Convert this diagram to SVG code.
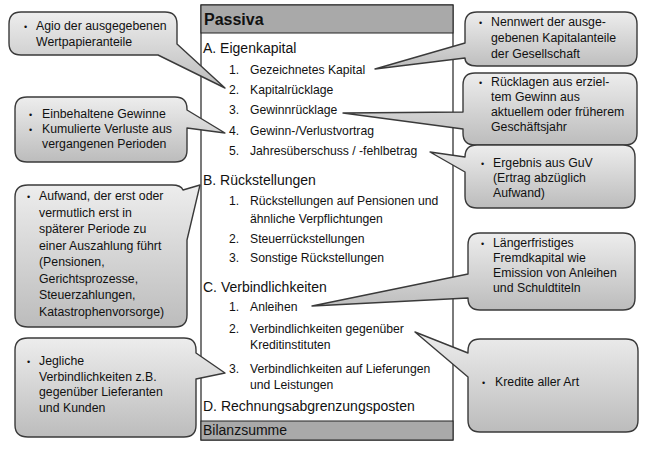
<svg xmlns="http://www.w3.org/2000/svg" width="652" height="450" viewBox="0 0 652 450">
<defs>
<linearGradient id="g" x1="0" y1="0" x2="0" y2="1">
<stop offset="0" stop-color="#ededed"/>
<stop offset="1" stop-color="#bcbcbc"/>
</linearGradient>
</defs>
<style>
.c{fill:url(#g);stroke:#3a3a3a;stroke-width:1.4;stroke-linejoin:round}
.t{font-family:"Liberation Sans",Arial,sans-serif;font-size:12.3px;fill:#111}
.b{font-family:"Liberation Sans",Arial,sans-serif;font-size:9px;fill:#111}
.h{font-family:"Liberation Sans",Arial,sans-serif;font-size:14px;fill:#111}
.i{font-family:"Liberation Sans",Arial,sans-serif;font-size:12.2px;fill:#111}
.row{fill:#a9a9a9;stroke:#222;stroke-width:1}
</style>
<rect width="652" height="450" fill="#fff"/>

<g id="table">
<rect x="201" y="5" width="252" height="435" fill="#fff" stroke="#222" stroke-width="1.2"/>
<rect class="row" x="201" y="5" width="252" height="28"/>
<rect class="row" x="201" y="421" width="252" height="19"/>
<text x="204" y="25" font-family="Liberation Sans,Arial,sans-serif" font-size="16" font-weight="bold" fill="#111">Passiva</text>
<text class="h" x="203" y="53">A. Eigenkapital</text>
<text class="i" x="229" y="74">1.<tspan x="250">Gezeichnetes Kapital</tspan></text>
<text class="i" x="229" y="94">2.<tspan x="250">Kapitalrücklage</tspan></text>
<text class="i" x="229" y="114">3.<tspan x="250">Gewinnrücklage</tspan></text>
<text class="i" x="229" y="135">4.<tspan x="250">Gewinn-/Verlustvortrag</tspan></text>
<text class="i" x="229" y="155">5.<tspan x="250">Jahresüberschuss / -fehlbetrag</tspan></text>
<text class="h" x="203" y="185">B. Rückstellungen</text>
<text class="i" x="229" y="205">1.<tspan x="250">Rückstellungen auf Pensionen und</tspan></text>
<text class="i" x="250" y="223">ähnliche Verpflichtungen</text>
<text class="i" x="229" y="243">2.<tspan x="250">Steuerrückstellungen</tspan></text>
<text class="i" x="229" y="262">3.<tspan x="250">Sonstige Rückstellungen</tspan></text>
<text class="h" x="203" y="292">C. Verbindlichkeiten</text>
<text class="i" x="229" y="311">1.<tspan x="250">Anleihen</tspan></text>
<text class="i" x="229" y="333">2.<tspan x="250">Verbindlichkeiten gegenüber</tspan></text>
<text class="i" x="250" y="349">Kreditinstituten</text>
<text class="i" x="229" y="373">3.<tspan x="250">Verbindlichkeiten auf Lieferungen</tspan></text>
<text class="i" x="250" y="389">und Leistungen</text>
<text class="h" x="203" y="411">D. Rechnungsabgrenzungsposten</text>
<text class="h" x="203" y="435">Bilanzsumme</text>
</g>

<g id="callout-agio">
<path class="c" d="M21,12 H165 Q177,12 177,24 V44 L225,88 L158,55 H21 Q9,55 9,43 V24 Q9,12 21,12 Z"/>
<text class="b" x="24" y="30">•</text>
<text class="t" x="36" y="30">Agio der ausgegebenen<tspan x="36" y="46">Wertpapieranteile</tspan></text>
</g>

<g id="callout-gewinne">
<path class="c" d="M27,97 H175 Q187,97 187,109 V110 L225,133 L187,128 V150 Q187,162 175,162 H27 Q15,162 15,150 V109 Q15,97 27,97 Z"/>
<text class="b" x="29" y="118">•</text>
<text class="t" x="42" y="118">Einbehaltene Gewinne</text>
<text class="b" x="29" y="133">•</text>
<text class="t" x="42" y="133">Kumulierte Verluste aus<tspan x="42" y="148">vergangenen Perioden</tspan></text>
</g>

<g id="callout-aufwand">
<path class="c" d="M28,185 H172 Q181,185 183,190 L200,185 L187,240 V315 Q187,327 175,327 H28 Q15,327 15,315 V197 Q15,185 28,185 Z"/>
<text class="b" x="27" y="200">•</text>
<text class="t" x="39" y="200">Aufwand, der erst oder<tspan x="39" y="216.5">vermutlich erst in</tspan><tspan x="39" y="233">späterer Periode zu</tspan><tspan x="39" y="249.5">einer Auszahlung führt</tspan><tspan x="39" y="266">(Pensionen,</tspan><tspan x="39" y="282.5">Gerichtsprozesse,</tspan><tspan x="39" y="299">Steuerzahlungen,</tspan><tspan x="39" y="315.5">Katastrophenvorsorge)</tspan></text>
</g>

<g id="callout-jegliche">
<path class="c" d="M28,338 H184 Q196,338 196,350 V353 L225,373 L196,379 V425 Q196,437 184,437 H28 Q15,437 15,425 V350 Q15,338 28,338 Z"/>
<text class="b" x="27" y="365">•</text>
<text class="t" x="39" y="365">Jegliche<tspan x="39" y="380.7">Verbindlichkeiten z.B.</tspan><tspan x="39" y="396.3">gegenüber Lieferanten</tspan><tspan x="39" y="412">und Kunden</tspan></text>
</g>

<g id="callout-nennwert">
<path class="c" d="M477,12 H625 Q637,12 637,24 V54 Q637,66 625,66 H477 Q465,66 465,58 L375,69 L465,43 V24 Q465,12 477,12 Z"/>
<text class="b" x="479" y="26">•</text>
<text class="t" x="491" y="26">Nennwert der ausge-<tspan x="491" y="42">gebenen Kapitalanteile</tspan><tspan x="491" y="58">der Gesellschaft</tspan></text>
</g>

<g id="callout-ruecklagen">
<path class="c" d="M475,73 H625 Q637,73 637,85 V133 Q637,145 625,145 H475 Q463,145 463,133 V129 L343,113 L463,112 V85 Q463,73 475,73 Z"/>
<text class="b" x="479" y="86">•</text>
<text class="t" x="491" y="86">Rücklagen aus erziel-<tspan x="491" y="101">tem Gewinn aus</tspan><tspan x="491" y="116">aktuellem oder früherem</tspan><tspan x="491" y="131">Geschäftsjahr</tspan></text>
</g>

<g id="callout-ergebnis">
<path class="c" d="M477,145 H623 Q635,145 635,157 V196 Q635,208 623,208 H477 Q465,208 465,196 V172 L430,152 L465,157 Q465,145 477,145 Z"/>
<text class="b" x="481" y="167">•</text>
<text class="t" x="493" y="167">Ergebnis aus GuV<tspan x="493" y="182">(Ertrag abzüglich</tspan><tspan x="493" y="197">Aufwand)</tspan></text>
</g>

<g id="callout-laengerfristig">
<path class="c" d="M480,233 H623 Q635,233 635,245 V298 Q635,310 623,310 H480 Q468,310 468,298 L312,306 L468,274 V245 Q468,233 480,233 Z"/>
<text class="b" x="481" y="247">•</text>
<text class="t" x="493" y="247">Längerfristiges<tspan x="493" y="262">Fremdkapital wie</tspan><tspan x="493" y="277">Emission von Anleihen</tspan><tspan x="493" y="292">und Schuldtiteln</tspan></text>
</g>

<g id="callout-kredite">
<path class="c" d="M480,339 H626 Q638,339 638,351 V420 Q638,432 626,432 H480 Q468,432 468,420 V377 L415,332 L468,353 V351 Q468,339 480,339 Z"/>
<text class="b" x="482" y="386">•</text>
<text class="t" x="495" y="386">Kredite aller Art</text>
</g>
</svg>
